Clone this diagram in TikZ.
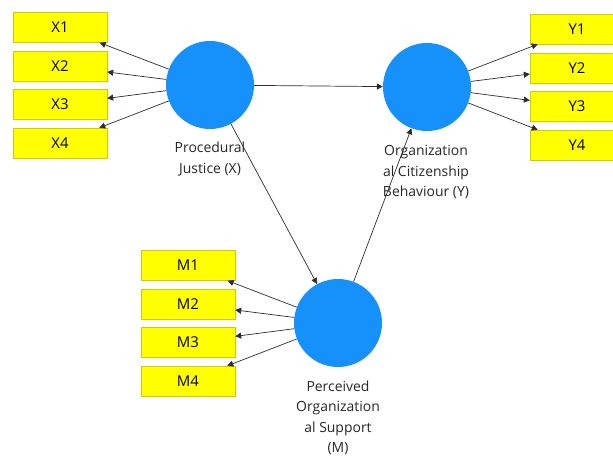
\documentclass[tikz,border=0pt]{standalone}
\usepackage{fontspec}
\setmainfont{Open Sans}
\usetikzlibrary{arrows.meta}
\definecolor{itemyellow}{RGB}{255,255,0}
\definecolor{itemborder}{RGB}{205,205,0}
\definecolor{latentblue}{RGB}{22,144,250}
\definecolor{pathgray}{RGB}{45,45,45}

\begin{document}
\begin{tikzpicture}[
    x=1bp, y=-1bp,
    indicator/.style={draw=itemborder, fill=itemyellow, minimum width=94bp, minimum height=30bp, inner sep=0pt, font=\fontsize{15}{18}\selectfont},
    latent/.style={circle, fill=latentblue, minimum size=88bp, inner sep=0pt},
    lvlabel/.style={align=center, inner sep=0pt, font=\fontsize{14}{20.5}\selectfont, text=black!85},
    arrow/.style={-{Triangle[length=6bp, width=6bp]}, draw=pathgray, line width=0.7bp}
]
    \useasboundingbox (0,0) rectangle (613,458);

    % Latent variables
    \node[latent] (pj) at (210,85) {};
    \node[latent] (ocb) at (427,87) {};
    \node[latent] (pos) at (338,323) {};

    \node[lvlabel] (pjlab) at (210,159) {Procedural\\Justice (X)};
    \node[lvlabel] (ocblab) at (426,172) {Organization\\al Citizenship\\Behaviour (Y)};
    \node[lvlabel] (poslab) at (338,418) {Perceived\\Organization\\al Support\\(M)};

    % Indicators of X
    \node[indicator] (x1) at (60,27.5) {X1};
    \node[indicator] (x2) at (60,66) {X2};
    \node[indicator] (x3) at (60,104.5) {X3};
    \node[indicator] (x4) at (60,143) {X4};

    % Indicators of Y
    \node[indicator] (y1) at (577,29) {Y1};
    \node[indicator] (y2) at (577,68) {Y2};
    \node[indicator] (y3) at (577,106.5) {Y3};
    \node[indicator] (y4) at (577,145) {Y4};

    % Indicators of M
    \node[indicator] (m1) at (188,265.5) {M1};
    \node[indicator] (m2) at (188,304) {M2};
    \node[indicator] (m3) at (188,342.5) {M3};
    \node[indicator] (m4) at (188,381) {M4};

    % Outer loadings
    \draw[arrow] (pj) -- (x1);
    \draw[arrow] (pj) -- (x2);
    \draw[arrow] (pj) -- (x3);
    \draw[arrow] (pj) -- (x4);
    \draw[arrow] (ocb) -- (y1);
    \draw[arrow] (ocb) -- (y2);
    \draw[arrow] (ocb) -- (y3);
    \draw[arrow] (ocb) -- (y4);
    \draw[arrow] (pos) -- (m1);
    \draw[arrow] (pos) -- (m2);
    \draw[arrow] (pos) -- (m3);
    \draw[arrow] (pos) -- (m4);

    % Structural paths
    \draw[arrow] (pj) -- (ocb);
    \draw[arrow] (pj) -- (pos);
    \draw[arrow] (pos) -- (ocb);
\end{tikzpicture}
\end{document}
